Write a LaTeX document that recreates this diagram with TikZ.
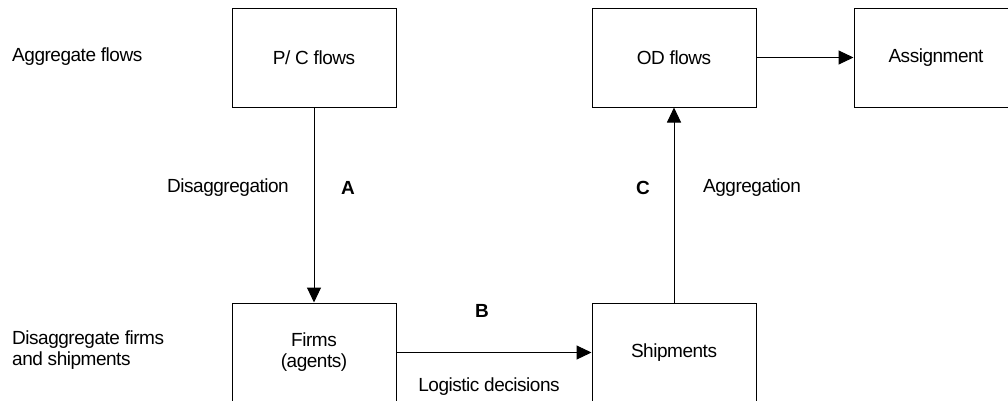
\documentclass[tikz,border=0pt]{standalone}
\usepackage{fontspec}
\setmainfont{Liberation Sans}[LetterSpace=-2.5]
\usetikzlibrary{arrows.meta}
\begin{document}
\begin{tikzpicture}[x=1pt,y=-1pt,
  font=\fontsize{19}{21}\selectfont,
  stepbox/.style={draw,line width=1pt,minimum width=164pt,minimum height=99pt,inner sep=0pt,align=center},
  flow/.style={line width=1pt,-{Triangle[length=15pt,width=14pt]}},
  lbl/.style={inner sep=0pt,anchor=center},
  side/.style={inner sep=0pt,anchor=west,align=left}]
\useasboundingbox (0,0) rectangle (1008,400);
\clip (0,0) rectangle (1008,400);
\node[stepbox] (pc) at (314,57.5) {P/ C flows};
\node[stepbox] (od) at (674,57.5) {OD flows};
\node[stepbox] (as) at (936,57.5) {Assignment};
\node[stepbox] (fi) at (314,352.5) {Firms\\(agents)};
\node[stepbox] (sh) at (674,352.5) {Shipments};
\draw[flow] (pc) -- (fi);
\draw[flow] (fi) -- (sh);
\draw[flow] (sh) -- (od);
\draw[flow] (od) -- (as);
\node[side] (l1) at (12,57) {Aggregate flows};
\node[side] (l2) at (12,350) {Disaggregate firms\\and shipments};
\node[lbl] (dis) at (228,188) {Disaggregation};
\node[lbl] (a) at (348,188) {\bfseries A};
\node[lbl] (c) at (643,188) {\bfseries C};
\node[lbl] (agg) at (752,188) {Aggregation};
\node[lbl] (b) at (482,311) {\bfseries B};
\node[lbl] (log) at (489,387) {Logistic decisions};
\end{tikzpicture}
\end{document}
